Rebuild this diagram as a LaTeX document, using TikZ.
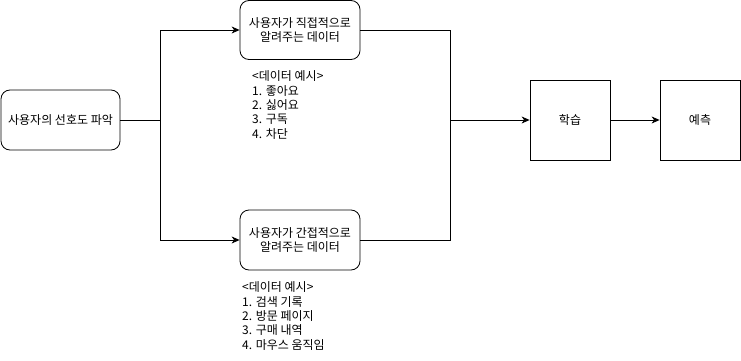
\documentclass[tikz,border=0pt]{standalone}
\usepackage{fontspec}
\setmainfont{Noto Sans CJK KR}
\usetikzlibrary{arrows.meta}
\begin{document}
\begin{tikzpicture}[x=1pt,y=-1pt,
  every node/.style={font=\fontsize{12}{14.4}\selectfont},
  rbox/.style={draw,rounded corners=9pt,align=center,line width=0.8pt},
  sbox/.style={draw,align=center,line width=0.8pt},
  note/.style={align=left,anchor=north west,inner sep=0pt},
  conn/.style={line width=0.8pt},
  arr/.style={conn,-{Stealth[length=8pt,width=7pt,inset=2.5pt]}}]
\useasboundingbox (0,0) rectangle (741,361);
\node[rbox,minimum width=119pt,minimum height=60pt] (src) at (60.5,120) {사용자의 선호도 파악};
\node[rbox,minimum width=120pt,minimum height=59pt] (dir) at (300,30) {사용자가 직접적으로\\알려주는 데이터};
\node[rbox,minimum width=120pt,minimum height=60pt] (ind) at (300,240) {사용자가 간접적으로\\알려주는 데이터};
\node[sbox,minimum width=80pt,minimum height=80pt] (learn) at (570,120) {학습};
\node[sbox,minimum width=80pt,minimum height=80pt] (pred) at (700,120) {예측};
\node[note] (n1) at (252,70.5) {<데이터 예시>\\1. 좋아요\\2. 싫어요\\3. 구독\\4. 차단};
\node[note] (n2) at (242,281.5) {<데이터 예시>\\1. 검색 기록\\2. 방문 페이지\\3. 구매 내역\\4. 마우스 움직임};
\coordinate (split) at (160,120);
\coordinate (join) at (450,120);
\draw[conn] (src.east) -- (split);
\draw[arr] (split) |- (dir.west);
\draw[arr] (split) |- (ind.west);
\draw[conn] (dir.east) -| (join);
\draw[conn] (ind.east) -| (join);
\draw[arr] (join) -- (learn.west);
\draw[arr] (learn.east) -- (pred.west);
\end{tikzpicture}
\end{document}
